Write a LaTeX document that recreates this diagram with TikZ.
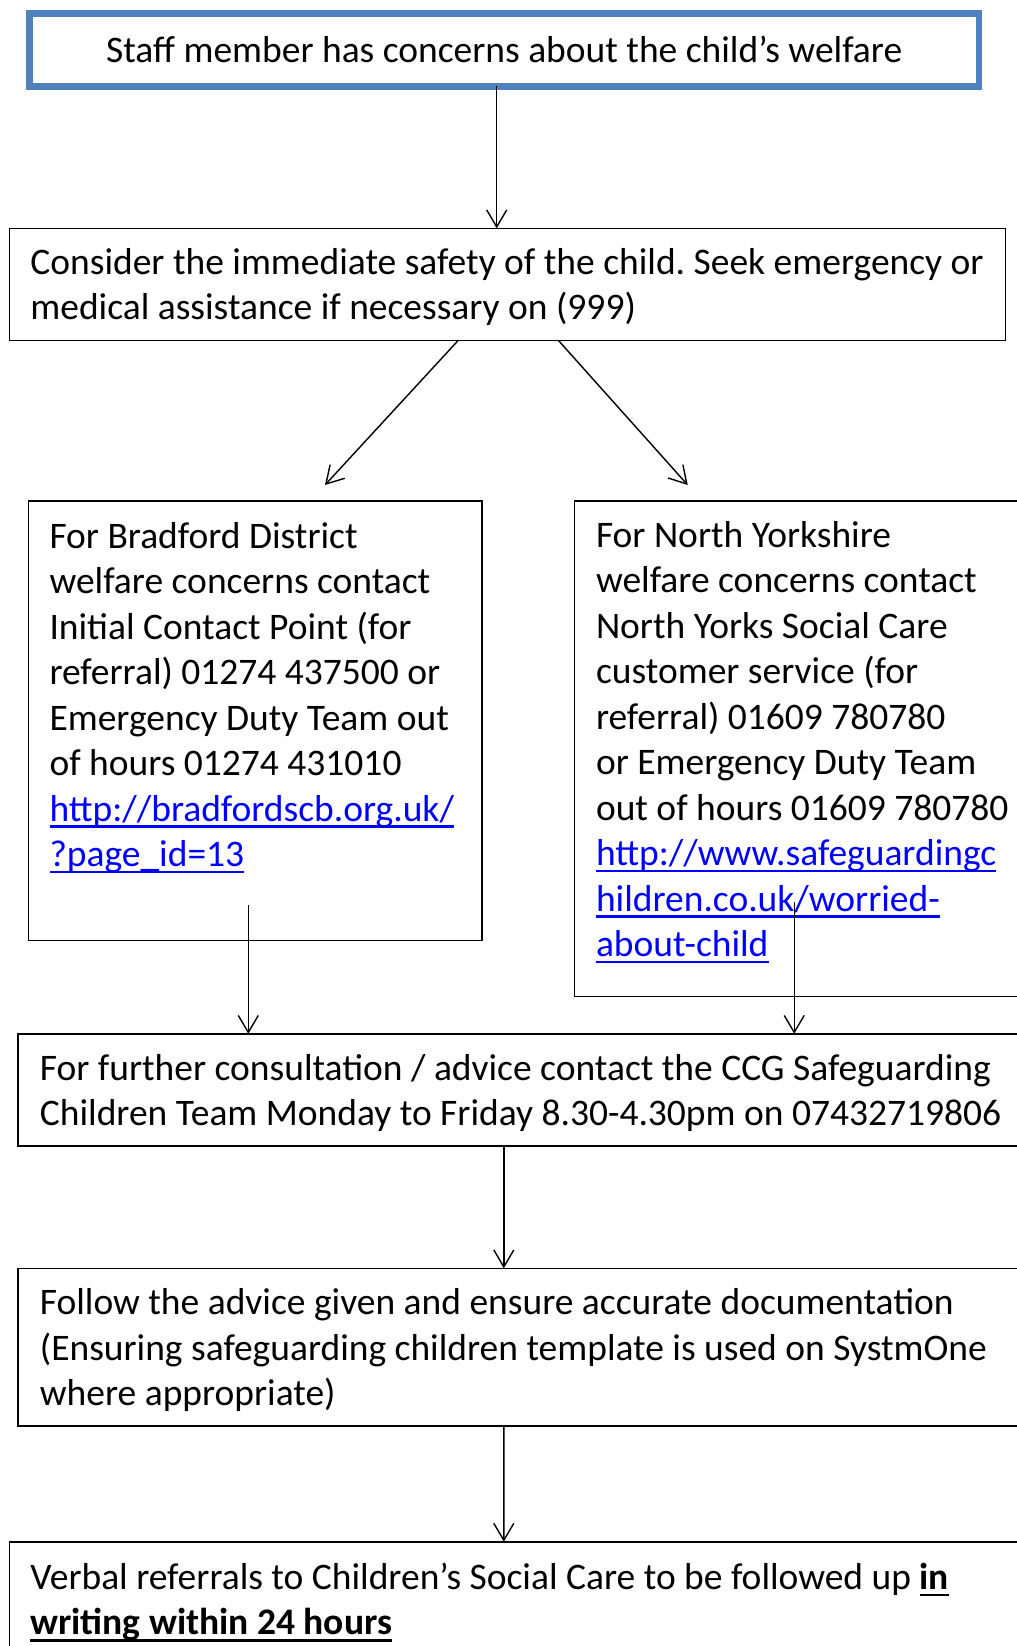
\documentclass[tikz,border=0pt]{standalone}
\usepackage{fontspec}
\setmainfont{Carlito}
\usetikzlibrary{arrows.meta}
\definecolor{boxblue}{HTML}{4F81BD}
\definecolor{linkblue}{HTML}{0000FF}
\newcommand\lnk[1]{\setbox0\hbox{#1}\rlap{\color{linkblue}\rule[-6.5pt]{\wd0}{2.2pt}}{\color{linkblue}\box0}}
\newcommand\bul[1]{\setbox0\hbox{\bfseries #1}\rlap{\rule[-7pt]{\wd0}{2.8pt}}\box0}
\tikzset{
  box/.style={draw, line width=1.6pt, inner sep=0pt, outer sep=0pt, anchor=north west},
  txt/.style={inner sep=0pt, outer sep=0pt, anchor=north west, align=left,
    font=\fontsize{37.5}{45.5}\selectfont\frenchspacing},
  arr/.style={line width=1.4pt, -{Straight Barb[length=17pt,width=20pt,line width=1.4pt]}}
}
\begin{document}
\begin{tikzpicture}[x=1pt,y=-1pt]
\clip (0,0) rectangle (1017,1646);
\fill[white] (0,0) rectangle (1017,1646);
% boxes
\node[box, draw=boxblue, line width=6.5pt, minimum width=949.7pt, minimum height=72.8pt] (b1) at (29.3,13.5) {};
\node[box, minimum width=996pt, minimum height=112pt] (b2) at (9.4,228.3) {};
\node[box, minimum width=453.4pt, minimum height=439.4pt] (b3) at (28.3,501) {};
\node[box, minimum width=470pt, minimum height=495.4pt] (b4) at (574.3,501) {};
\node[box, minimum width=1030pt, minimum height=112.4pt] (b5) at (17.8,1033.8) {};
\node[box, minimum width=1030pt, minimum height=157.7pt] (b6) at (17.8,1268.3) {};
\node[box, minimum width=1040pt, minimum height=200pt] (b7) at (9.4,1541.7) {};
% texts
\node[txt, anchor=base] (t1) at (504.2,62.5) {Staff member has concerns about the child’s welfare};
\node[txt] (t2) at (30.4,242.55) {\strut Consider the immediate safety of the child. Seek emergency or\\medical assistance if necessary on (999)};
\node[txt] (t3) at (49.5,516.15) {\strut For Bradford District\\welfare concerns contact\\Initial Contact Point (for\\referral) 01274 437500 or\\Emergency Duty Team out\\of hours 01274 431010\\\lnk{http://bradfordscb.org.uk/}\\\lnk{?page\_id=13}};
\node[txt] (t4) at (596,515.15) {\strut For North Yorkshire\\welfare concerns contact\\North Yorks Social Care\\customer service (for\\referral) 01609 780780\\or Emergency Duty Team\\out of hours 01609 780780\\\lnk{http://www.safeguardingc}\\\lnk{hildren.co.uk/worried-}\\\lnk{about-child}};
\node[txt] (t5) at (39.9,1048.15) {\strut For further consultation / advice contact the CCG Safeguarding\\Children Team Monday to Friday 8.30-4.30pm on 07432719806};
\node[txt] (t6) at (39.9,1282.65) {\strut Follow the advice given and ensure accurate documentation\\(Ensuring safeguarding children template is used on SystmOne\\where appropriate)};
\node[txt] (t7) at (30.4,1557.55) {\strut Verbal referrals to Children’s Social Care to be followed up \bul{in}\\\bul{writing within 24 hours}};
% connectors
\draw[arr] ([xshift=467.4pt]b1.south west) -- ([xshift=487.3pt]b2.north west);
\draw[arr] ([xshift=448.9pt]b2.south west) -- ([xshift=296.7pt,yshift=16pt]b3.north west);
\draw[arr] ([xshift=548.9pt]b2.south west) -- ([xshift=113.4pt,yshift=16pt]b4.north west);
\coordinate (s3) at (248.3,905);
\coordinate (s4) at (794.2,901.7);
\draw[arr] (s3) -- (s3 |- b5.north);
\draw[arr] (s4) -- (s4 |- b5.north);
\draw[arr] ([xshift=486pt]b5.south west) -- ([xshift=486pt]b6.north west);
\draw[arr] ([xshift=486pt]b6.south west) -- ([xshift=494.4pt]b7.north west);
\end{tikzpicture}
\end{document}
